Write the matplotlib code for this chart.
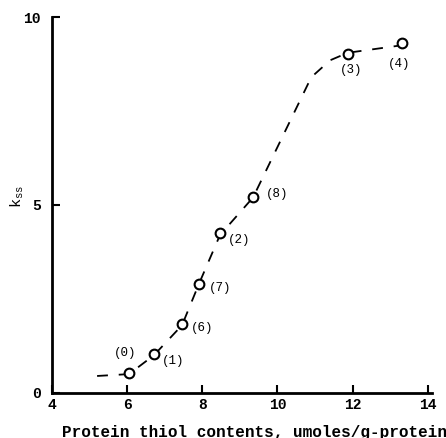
import matplotlib.pyplot as plt

# measured points (sample number, thiol content, k_ss)
labels = ['(0)', '(1)', '(6)', '(7)', '(2)', '(8)', '(3)', '(4)']
thiol = [6.05, 6.71, 7.46, 7.91, 8.47, 9.35, 11.87, 13.31]
kss = [0.53, 1.03, 1.83, 2.91, 4.26, 5.21, 9.02, 9.31]

# hand-drawn dashed trend curve
curve_x = [5.2, 6.05, 6.71, 7.46, 7.91, 8.47, 9.35, 10.9, 11.4, 11.87, 13.31]
curve_y = [0.45, 0.5, 1.0, 1.8, 2.9, 4.2, 5.2, 8.4, 8.85, 9.05, 9.25]

# label offsets in pixels (dx, dy)
offsets = [(-4, 20), (19, -7), (20, -4), (21, -4), (19, -7), (24, 3), (3, -16), (-3, -21)]

mono = 'Liberation Mono'

fig = plt.figure(figsize=(4.46, 4.38), dpi=100)
ax = fig.add_axes([0.1166, 0.103, 0.851, 0.858])

ax.plot(curve_x, curve_y, color='black', lw=1.3, linestyle=(0, (6, 6)))
ax.plot(thiol, kss, 'o', ms=7, mfc='white', mec='black', mew=1.5, zorder=3)

for lab, x, y, (dx, dy) in zip(labels, thiol, kss, offsets):
    ax.annotate(lab, (x, y), xytext=(dx, dy), textcoords='offset pixels',
                ha='center', va='center', fontsize=9, family=mono)

ax.set_xlim(4, 14.1)
ax.set_ylim(0, 10)
ax.set_xticks([4, 6, 8, 10, 12, 14])
ax.set_yticks([0, 5, 10])
ax.tick_params(direction='in', length=6, width=1.5, labelsize=10.5)
ax.tick_params(axis='y', pad=8)
ax.tick_params(axis='x', pad=4)
for t in ax.get_xticklabels() + ax.get_yticklabels():
    t.set_family(mono)
    t.set_fontweight('bold')

for s in ['top', 'right']:
    ax.spines[s].set_visible(False)
for s in ['left', 'bottom']:
    ax.spines[s].set_linewidth(2)

fig.text(254 / 446, 1 - 432 / 438, 'Protein thiol contents, umoles/g-protein',
         family=mono, fontsize=11.5, fontweight='bold', ha='center', va='center')
fig.text(17 / 446, 1 - 196 / 438, r'k$_{\mathregular{ss}}$', family=mono,
         fontsize=11, rotation=90, ha='center', va='center')

fig.savefig('out.png', dpi=100)
